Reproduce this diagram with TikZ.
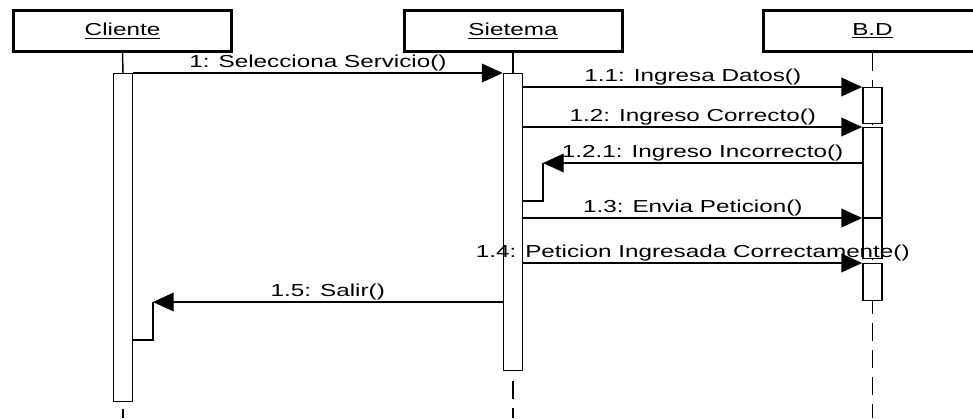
\documentclass[tikz,border=0pt]{standalone}
\usepackage{fontspec}
\setmainfont{Liberation Sans}
\usetikzlibrary{arrows.meta}

\tikzset{
  cabeza/.style={draw, line width=2.25pt, fill=white, minimum width=163.5pt, minimum height=30.75pt, inner sep=0pt},
  activ/.style={draw, line width=1.1pt, fill=white, minimum width=14.5pt, minimum height=#1*0.75pt, inner sep=0pt, anchor=north},
  msg/.style={line width=1pt, -{Triangle[length=15.5pt,width=14pt]}},
  ret/.style={line width=1pt},
  vida/.style={line width=1.1pt, dash pattern=on 13.5pt off 6.75pt},
  etiq/.style={above, inner sep=1pt, font=\fontsize{13}{15}\selectfont},
}
\newcommand{\ancho}[1]{\scalebox{1.4}[1]{#1}}

\begin{document}
\begin{tikzpicture}[x=0.75pt,y=-0.75pt]
  \useasboundingbox (0,0) rectangle (973,418);
  \clip (0,0) rectangle (973,418);
  % lifelines
  \coordinate (finC) at (123,418);
  \coordinate (finS) at (513,418);
  \coordinate (finB) at (872.5,418);
  \draw[vida] (872.5,53) -- (finB);
  % activations
  \node[activ=328] (aC) at (123,73) {};
  \node[activ=297] (aS) at (513,73) {};
  \node[activ=36] (aB1) at (872.5,87) {};
  \node[activ=131] (aB2) at (872.5,127) {};
  \node[activ=37] (aB3) at (872.5,263) {};
  \draw[vida] ([yshift=-5.25pt]aC.south) -- (finC);
  \draw[vida] ([yshift=-7.5pt]aS.south) -- (finS);
  % message rows
  \coordinate (m1) at (0,73);
  \coordinate (m11) at (0,87);
  \coordinate (m12) at (0,127);
  \coordinate (m121) at (0,163);
  \coordinate (r121) at (0,201);
  \coordinate (m13) at (0,218);
  \coordinate (m14) at (0,263);
  \coordinate (m15) at (0,302);
  \coordinate (r15) at (0,340);
  \coordinate (t121) at (543,163);
  \coordinate (t15) at (153,302);
  \draw[msg] (aC.east |- m1) -- node[etiq] {\ancho{1: Selecciona Servicio()}} (aS.west |- m1);
  \draw[msg] (aS.east |- m11) -- node[etiq] {\ancho{1.1: Ingresa Datos()}} (aB1.west |- m11);
  \draw[msg] (aS.east |- m12) -- node[etiq] {\ancho{1.2: Ingreso Correcto()}} (aB2.west |- m12);
  \draw[msg] (aB2.west |- m121) -- node[etiq] {\ancho{1.2.1: Ingreso Incorrecto()}} (t121);
  \draw[ret] (t121) |- (aS.east |- r121);
  \draw[msg] (aS.east |- m13) -- node[etiq] {\ancho{1.3: Envia Peticion()}} (aB2.west |- m13);
  \draw[ret] (aB2.west |- m13) -- (aB2.east |- m13);
  \draw[msg] (aS.east |- m14) -- node[etiq] {\ancho{1.4: Peticion Ingresada Correctamente()}} (aB3.west |- m14);
  \draw[msg] (aS.west |- m15) -- node[etiq] {\ancho{1.5: Salir()}} (t15);
  \draw[ret] (t15) |- (aC.east |- r15);
  % objects
  \node[cabeza] (cli) at (122.5,31) {\raisebox{2.25pt}{\fontsize{13}{15}\selectfont\ancho{\underline{Cliente}}}};
  \node[cabeza] (sis) at (513,31) {\raisebox{2.25pt}{\fontsize{13}{15}\selectfont\ancho{\underline{Sietema}}}};
  \node[cabeza] (bd) at (872.5,31) {\raisebox{2.25pt}{\fontsize{13}{15}\selectfont\ancho{\underline{B.D}}}};
  \draw[line width=1.1pt] (cli.south) -- (aC.north);
  \draw[line width=1.1pt] (sis.south) -- (aS.north);
\end{tikzpicture}
\end{document}
